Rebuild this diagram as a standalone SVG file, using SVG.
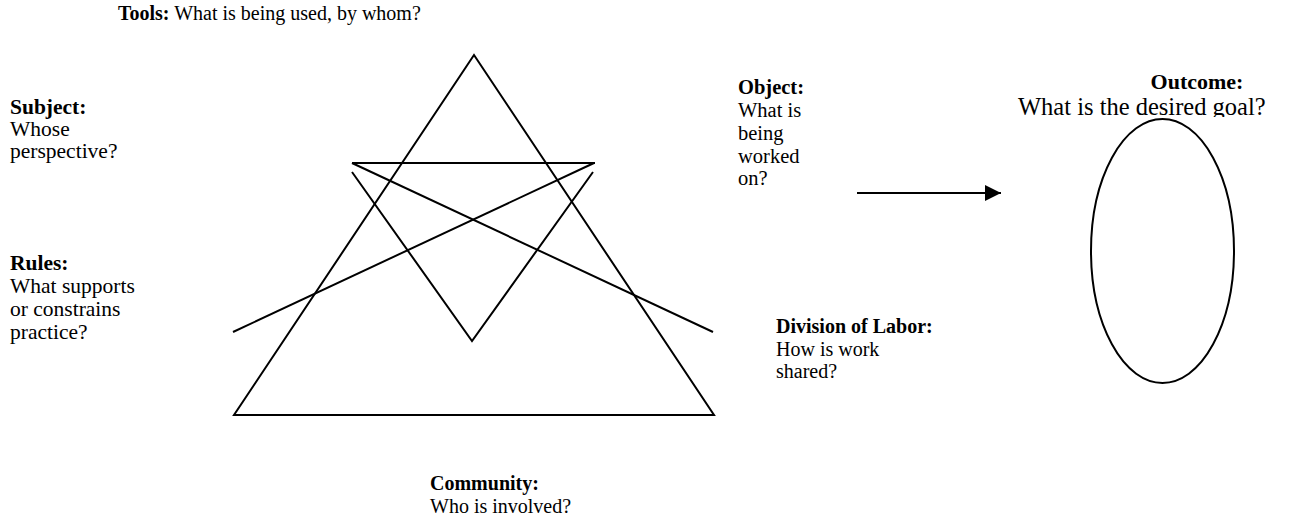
<svg xmlns="http://www.w3.org/2000/svg" width="1294" height="529" viewBox="0 0 1294 529">
<style>
text{font-family:"Liberation Serif","Times New Roman",serif;font-size:20px;fill:#000}
.b{font-weight:bold}
.l{font-size:21.5px}
.o{font-size:20.5px}
.ln{stroke:#000;stroke-width:2;fill:none}
</style>
<defs>
<marker id="ah" markerWidth="10" markerHeight="10" refX="8" refY="4" orient="auto" markerUnits="strokeWidth"><path d="M0,0 L8,4 L0,8 z" fill="#000"/></marker>
<clipPath id="oc"><rect x="900" y="60" width="394" height="57"/></clipPath>
</defs>
<rect width="1294" height="529" fill="#fff"/>
<g id="shapes">
<polygon class="ln" points="474,55 234,415 714,415"/>
<line class="ln" x1="352" y1="163" x2="595" y2="163"/>
<line class="ln" x1="352" y1="163" x2="713" y2="332"/>
<line class="ln" x1="594" y1="163" x2="233" y2="332"/>
<polyline class="ln" points="352,172 472,341 593,172"/>
<ellipse id="outcome-ellipse" class="ln" cx="1162.5" cy="251" rx="71.5" ry="132"/>
</g>
<g id="connectors">
<line class="ln" x1="857" y1="193" x2="1001" y2="193" marker-end="url(#ah)"/>
</g>
<g id="tools"><text x="118" y="20"><tspan class="b">Tools:</tspan> What is being used, by whom?</text></g>
<g id="subject">
<text x="10" y="114" class="b l">Subject:</text>
<text x="10" y="136" class="l">Whose</text>
<text x="10" y="158" class="l">perspective?</text>
</g>
<g id="rules">
<text x="10" y="270" class="b l">Rules:</text>
<text x="10" y="293" class="l">What supports</text>
<text x="10" y="316" class="l">or constrains</text>
<text x="10" y="339" class="l">practice?</text>
</g>
<g id="object">
<text x="738" y="94" class="b o">Object:</text>
<text x="738" y="117" class="o">What is</text>
<text x="738" y="140" class="o">being</text>
<text x="738" y="163" class="o">worked</text>
<text x="738" y="185" class="o">on?</text>
</g>
<g id="outcome" clip-path="url(#oc)">
<text x="1197" y="89" class="b" text-anchor="middle" style="font-size:22px">Outcome:</text>
<text x="1018" y="115" style="font-size:24.5px">What is the desired goal?</text>
</g>
<g id="division">
<text x="776" y="333" class="b">Division of Labor:</text>
<text x="776" y="356">How is work</text>
<text x="776" y="378">shared?</text>
</g>
<g id="community">
<text x="430" y="490" class="b">Community:</text>
<text x="430" y="513">Who is involved?</text>
</g>
</svg>
